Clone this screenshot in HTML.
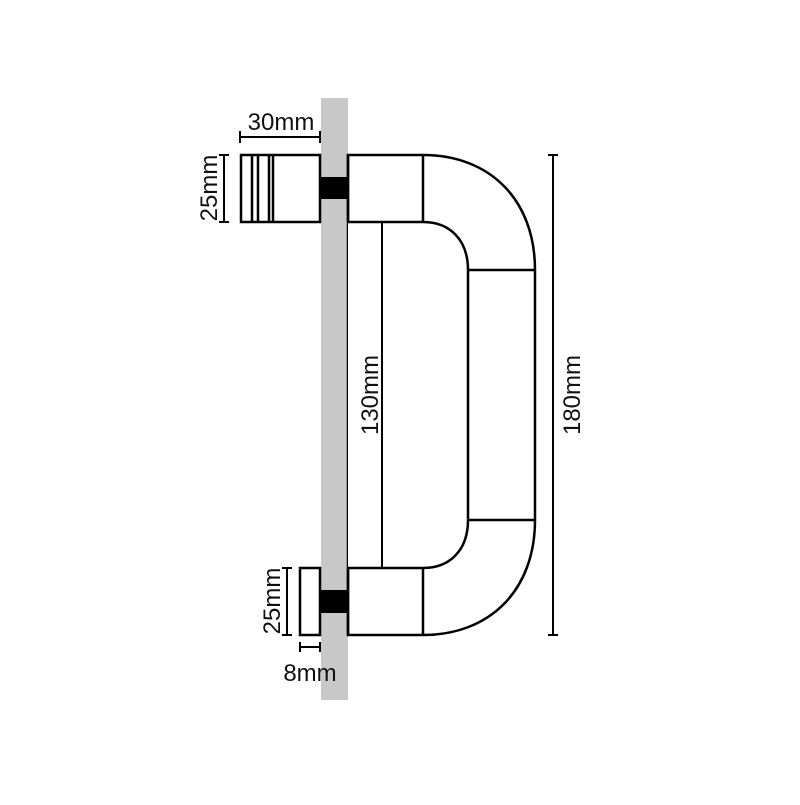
<!DOCTYPE html>
<html><head><style>body{margin:0;background:#fff}</style></head><body>
<svg width="800" height="800" viewBox="0 0 800 800" xmlns="http://www.w3.org/2000/svg" font-family="Liberation Sans, sans-serif">
<rect x="321" y="98" width="27" height="602" fill="#c8c8c8"/>
<g fill="none" stroke="#000" stroke-width="2.5">
<rect x="241" y="155" width="79" height="67" fill="#fff"/>
<line x1="252" y1="155" x2="252" y2="222"/><line x1="258" y1="155" x2="258" y2="222"/>
<line x1="269" y1="155" x2="269" y2="222"/><line x1="273" y1="155" x2="273" y2="222"/>
<rect x="300" y="568" width="20" height="67" fill="#fff"/>
<path d="M348 155 H423 C490 155 535 200 535 270 V520 C535 590 490 635 423 635 H348 Z" fill="#fff"/>
<path d="M348 222 H423 C450 222 468 240 468 270 V520 C468 550 450 568 423 568 H348" fill="#fff"/>
<line x1="348" y1="155" x2="348" y2="222"/><line x1="348" y1="568" x2="348" y2="635"/>
<line x1="423" y1="155" x2="423" y2="222"/><line x1="423" y1="568" x2="423" y2="635"/>
<line x1="468" y1="270" x2="535" y2="270"/><line x1="468" y1="520" x2="535" y2="520"/>
</g>
<rect x="321" y="177" width="27" height="22" fill="#000"/>
<rect x="321" y="590" width="27" height="23" fill="#000"/>
<g stroke="#000" stroke-width="2">
<line x1="240" y1="137" x2="320" y2="137"/><line x1="240" y1="131" x2="240" y2="143"/><line x1="320" y1="131" x2="320" y2="143"/>
<line x1="224" y1="155" x2="224" y2="222"/><line x1="219" y1="155" x2="229" y2="155"/><line x1="219" y1="222" x2="229" y2="222"/>
<line x1="287" y1="568" x2="287" y2="635"/><line x1="282" y1="568" x2="292" y2="568"/><line x1="282" y1="635" x2="292" y2="635"/>
<line x1="300" y1="647" x2="320" y2="647"/><line x1="300" y1="642" x2="300" y2="652"/><line x1="320" y1="642" x2="320" y2="652"/>
<line x1="382" y1="222" x2="382" y2="568"/><line x1="377" y1="222" x2="387" y2="222"/><line x1="377" y1="568" x2="387" y2="568"/>
<line x1="553" y1="155" x2="553" y2="635"/><line x1="548" y1="155" x2="558" y2="155"/><line x1="548" y1="635" x2="558" y2="635"/>
</g>
<g font-size="24" fill="#111">
<text x="281" y="130" text-anchor="middle">30mm</text>
<text transform="translate(217,188) rotate(-90)" text-anchor="middle">25mm</text>
<text transform="translate(280,601) rotate(-90)" text-anchor="middle">25mm</text>
<text x="310" y="681" text-anchor="middle">8mm</text>
<text transform="translate(378,395) rotate(-90)" text-anchor="middle">130mm</text>
<text transform="translate(580,395) rotate(-90)" text-anchor="middle">180mm</text>
</g>
</svg>
</body></html>
